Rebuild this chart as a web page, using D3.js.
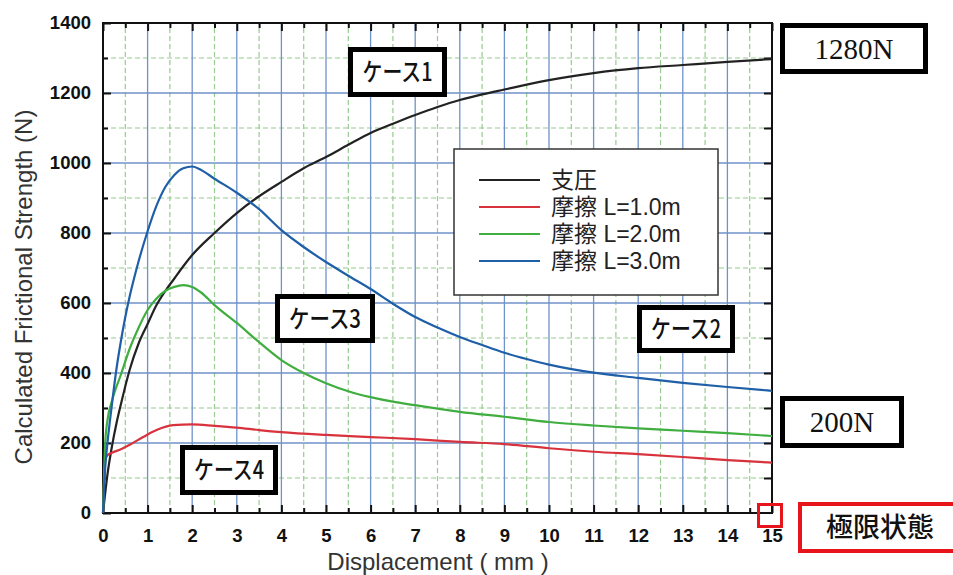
<!DOCTYPE html>
<html>
<head>
<meta charset="utf-8">
<script src="https://cdn.jsdelivr.net/npm/d3@7"></script>
<style>
  body { margin: 0; background: #fff; }
  svg { display: block; }
</style>
</head>
<body>
<div id="chart"></div>
<script>
'use strict';

// ---- data ----
const xTicks = d3.range(0, 16);          // mm
const yTicks = d3.range(0, 1401, 200);   // N

const seriesNames = ['支圧', '摩擦 L=1.0m', '摩擦 L=2.0m', '摩擦 L=3.0m'];

// [displacement mm, strength N]
const bearing = [
    [0, 0], [0.1, 110], [0.2, 190], [0.3, 255], [0.4, 310], [0.6, 410], [0.8, 485],
    [1.0, 540], [1.2, 594], [1.4, 635], [1.6, 670], [1.8, 705], [2.0, 737], [2.5, 800],
    [3.0, 857], [3.5, 905], [4.0, 946], [4.5, 985], [5.0, 1017], [5.5, 1052], [6.0, 1086],
    [6.5, 1112], [7.0, 1137], [7.5, 1160], [8.0, 1180], [8.5, 1196], [9.0, 1210],
    [9.5, 1224], [10, 1237], [11, 1257], [12, 1271], [13, 1280], [14, 1289], [15, 1297]
];
const friction1 = [
    [0, 0], [0.05, 150], [0.1, 165], [0.2, 172], [0.4, 182], [0.6, 195], [0.9, 217],
    [1.2, 237], [1.57, 251], [2.0, 253], [2.5, 249], [3.0, 244], [3.5, 237], [4.0, 231],
    [5, 223], [6, 217], [7, 211], [8, 203], [9, 197], [10, 185], [11, 175], [12, 168],
    [13, 160], [14, 151], [15, 144]
];
const friction2 = [
    [0, 0], [0.05, 200], [0.1, 265], [0.2, 320], [0.4, 395], [0.6, 470], [0.8, 530],
    [1.0, 580], [1.2, 613], [1.4, 635], [1.6, 646], [1.8, 651], [2.0, 646], [2.2, 630],
    [2.5, 594], [3.0, 543], [3.5, 488], [4.0, 437], [4.5, 400], [5.0, 371], [5.5, 348],
    [6.0, 331], [6.5, 318], [7.0, 308], [7.5, 298], [8.0, 289], [9, 275], [10, 260],
    [11, 250], [12, 242], [13, 235], [14, 228], [15, 220]
];
const friction3 = [
    [0, 0], [0.05, 130], [0.1, 200], [0.2, 310], [0.3, 410], [0.4, 490], [0.5, 560],
    [0.6, 620], [0.7, 672], [0.8, 720], [1.0, 805], [1.2, 878], [1.4, 932], [1.6, 966],
    [1.8, 985], [2.0, 990], [2.2, 980], [2.5, 955], [3.0, 915], [3.5, 868], [4.0, 808],
    [4.5, 760], [5.0, 717], [5.5, 678], [6.0, 640], [6.5, 598], [7.0, 560], [7.5, 530],
    [8.0, 503], [8.5, 480], [9.0, 458], [9.5, 440], [10, 424], [11, 401], [12, 386],
    [13, 372], [14, 360], [15, 349]
];

const caseLabels = ['ケース1', 'ケース2', 'ケース3', 'ケース4'];
const loadLabels = ['1280N', '200N'];
const limitLabel = '極限状態';

// ---- layout / style ----
const width = 953;
const height = 575;
const colors = ['#222222', '#d8323c', '#3fae3f', '#1f5fa8'];

const x = d3.scaleLinear().domain([0, 15]).range([103, 772]);
const y = d3.scaleLinear().domain([0, 1400]).range([513, 23]);

const svg = d3.select('#chart').append('svg')
    .attr('width', width)
    .attr('height', height);

svg.append('rect')
    .attr('width', width)
    .attr('height', height)
    .attr('fill', '#fff');

// grid
let grid = svg.append('g');

grid.selectAll('.vminor').data(d3.range(0.5, 15, 1))
    .enter().append('line')
    .attr('x1', d => x(d)).attr('x2', d => x(d))
    .attr('y1', y(0)).attr('y2', y(1400))
    .attr('stroke', '#94cc8c').attr('stroke-width', 1.2)
    .attr('stroke-dasharray', '5,3');

grid.selectAll('.hminor').data(d3.range(100, 1400, 200))
    .enter().append('line')
    .attr('x1', x(0)).attr('x2', x(15))
    .attr('y1', d => y(d)).attr('y2', d => y(d))
    .attr('stroke', '#94cc8c').attr('stroke-width', 1.2)
    .attr('stroke-dasharray', '5,3');

grid.selectAll('.vmajor').data(d3.range(1, 15))
    .enter().append('line')
    .attr('x1', d => x(d)).attr('x2', d => x(d))
    .attr('y1', y(0)).attr('y2', y(1400))
    .attr('stroke', '#6f92c8').attr('stroke-width', 1.3);

grid.selectAll('.hmajor').data(d3.range(200, 1400, 200))
    .enter().append('line')
    .attr('x1', x(0)).attr('x2', x(15))
    .attr('y1', d => y(d)).attr('y2', d => y(d))
    .attr('stroke', '#6f92c8').attr('stroke-width', 1.3);

// axes (ticks pointing inward)
const tickFont = 'bold 18.5px "Liberation Sans", Arial, sans-serif';

function styleAxis(sel) {
    sel.select('.domain').remove();
    sel.selectAll('.tick line').attr('stroke', '#111').attr('stroke-width', 2);
    sel.selectAll('.tick text').style('font', tickFont).attr('fill', '#111');
}

svg.append('g').attr('transform', `translate(0,${y(0)})`)
    .call(d3.axisBottom(x).tickValues(xTicks).tickSize(-8).tickPadding(16).tickFormat(d3.format('d')))
    .call(styleAxis);
svg.append('g').attr('transform', `translate(0,${y(0)})`)
    .call(d3.axisBottom(x).tickValues(d3.range(0.5, 15, 1)).tickSize(-5).tickFormat(''))
    .call(styleAxis);
svg.append('g').attr('transform', `translate(0,${y(1400)})`)
    .call(d3.axisTop(x).tickValues(xTicks).tickSize(-8).tickFormat(''))
    .call(styleAxis);
svg.append('g').attr('transform', `translate(0,${y(1400)})`)
    .call(d3.axisTop(x).tickValues(d3.range(0.5, 15, 1)).tickSize(-5).tickFormat(''))
    .call(styleAxis);

svg.append('g').attr('transform', `translate(${x(0)},0)`)
    .call(d3.axisLeft(y).tickValues(yTicks).tickSize(-8).tickPadding(12).tickFormat(d3.format('d')))
    .call(styleAxis);
svg.append('g').attr('transform', `translate(${x(0)},0)`)
    .call(d3.axisLeft(y).tickValues(d3.range(100, 1400, 200)).tickSize(-5).tickFormat(''))
    .call(styleAxis);
svg.append('g').attr('transform', `translate(${x(15)},0)`)
    .call(d3.axisRight(y).tickValues(d3.range(100, 1400, 100)).tickSize(-8).tickFormat(''))
    .call(styleAxis);

// plot frame
svg.append('rect')
    .attr('x', x(0)).attr('y', y(1400))
    .attr('width', x(15) - x(0)).attr('height', y(0) - y(1400))
    .attr('fill', 'none').attr('stroke', '#111').attr('stroke-width', 2);

// axis titles
svg.append('text')
    .attr('transform', 'translate(32,287) rotate(-90)')
    .attr('text-anchor', 'middle')
    .style('font', '24px "Liberation Sans", Arial, sans-serif')
    .attr('fill', '#333')
    .text('Calculated Frictional Strength (N)');

svg.append('text')
    .attr('x', 438).attr('y', 570)
    .attr('text-anchor', 'middle')
    .style('font', '24px "Liberation Sans", Arial, sans-serif')
    .attr('fill', '#333')
    .text('Displacement ( mm )');

// curves
const line = d3.line()
    .x(d => x(d[0]))
    .y(d => y(d[1]))
    .curve(d3.curveMonotoneX);

[bearing, friction1, friction2, friction3].forEach((s, i) => {
    svg.append('path')
        .attr('d', line(s))
        .attr('fill', 'none')
        .attr('stroke', colors[i])
        .attr('stroke-width', 2.2)
        .attr('stroke-linejoin', 'round');
});

// legend
let legend = svg.append('g');
legend.append('rect')
    .attr('x', 454).attr('y', 149).attr('width', 264).attr('height', 146)
    .attr('fill', '#fff').attr('stroke', '#333').attr('stroke-width', 1.5);

seriesNames.forEach((name, i) => {
    const ly = 180 + i * 27;
    legend.append('line')
        .attr('x1', 479).attr('x2', 540).attr('y1', ly).attr('y2', ly)
        .attr('stroke', colors[i]).attr('stroke-width', 1.8);
    legend.append('text')
        .attr('x', 551).attr('y', ly).attr('dy', '0.36em')
        .style('font', '23px "Liberation Sans", "Noto Sans CJK JP", sans-serif')
        .attr('fill', '#222')
        .text(name);
});

// annotation boxes
function box(x0, y0, x1, y1, label, opts) {
    const sw = opts.stroke || 5;
    let g = svg.append('g');
    g.append('rect')
        .attr('x', x0 + sw / 2).attr('y', y0 + sw / 2)
        .attr('width', x1 - x0 - sw).attr('height', y1 - y0 - sw)
        .attr('fill', opts.fill || '#fff')
        .attr('stroke', opts.color || '#000')
        .attr('stroke-width', sw);
    if (label) {
        let t = g.append('text')
            .attr('x', opts.tx || (x0 + x1) / 2).attr('y', (y0 + y1) / 2)
            .attr('dy', '0.36em')
            .attr('text-anchor', 'middle')
            .style('font', opts.font)
            .attr('fill', '#111')
            .text(label);
        if (opts.len) {
            t.attr('textLength', opts.len).attr('lengthAdjust', 'spacingAndGlyphs');
        }
    }
}

const caseFont = '500 25px "Noto Sans CJK JP", sans-serif';
const serifFont = '29px "Liberation Serif", "DejaVu Serif", serif';

box(348, 47, 447, 97, caseLabels[0], {font: caseFont, len: 70});
box(637, 305, 735, 353, caseLabels[1], {font: caseFont, len: 70});
box(275, 294, 375, 343, caseLabels[2], {font: caseFont, len: 72});
box(180, 445, 278, 495, caseLabels[3], {font: caseFont, len: 70});

box(780, 23, 928, 74, loadLabels[0], {font: serifFont});
box(780, 396, 904, 448, loadLabels[1], {font: serifFont});

box(798, 502, 960, 553, limitLabel, {font: '500 27px "Noto Sans CJK JP", sans-serif', color: '#e8141c', stroke: 4, tx: 880});
box(757, 503, 783, 528, null, {color: '#e8141c', stroke: 3, fill: 'none'});
</script>
</body>
</html>
